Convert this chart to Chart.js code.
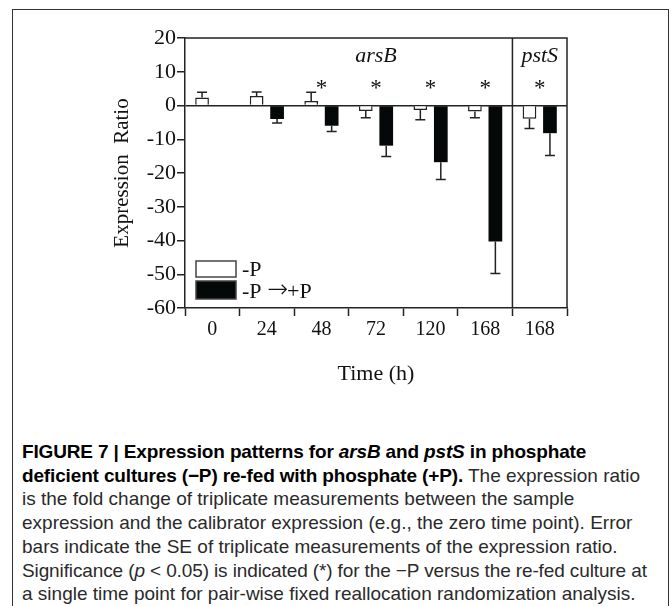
<!DOCTYPE html>
<html>
<head>
<meta charset="utf-8">
<script src="https://cdn.jsdelivr.net/npm/chart.js@4.4.0/dist/chart.umd.min.js"></script>
<style>
    html, body { margin: 0; padding: 0; background: #fff; }
    body { width: 671px; height: 606px; position: relative; overflow: hidden; }
    #frame { position: absolute; left: 12px; top: 9px; width: 655px; height: 640px; border: 1.5px solid #333; }
    #chartBox { position: absolute; left: 0; top: 0; width: 671px; height: 420px; }
    #caption {
        position: absolute; left: 22px; top: 440px; width: 645px;
        font-family: 'Liberation Sans', Arial, sans-serif;
        font-size: 19px; line-height: 23.7px; color: #2a2a2a; white-space: nowrap;
    }
    #caption b { color: #000; letter-spacing: -0.15px; }
    #caption .tight { letter-spacing: -0.12px; }
</style>
</head>
<body>
<div id="frame"></div>
<div id="chartBox"><canvas id="chart"></canvas></div>
<div id="caption"><b>FIGURE 7 | Expression patterns for <i>arsB</i> and <i>pstS</i> in phosphate<br>deficient cultures (−P) re-fed with phosphate (+P).</b> The expression ratio<br>is the fold change of triplicate measurements between the sample<br>expression and the calibrator expression (e.g., the zero time point). Error<br>bars indicate the SE of triplicate measurements of the expression ratio.<br><span class="tight">Significance (<i>p</i> &lt; 0.05) is indicated (*) for the −P versus the re-fed culture at</span><br>a single time point for pair-wise fixed reallocation randomization analysis.</div>

<script>
// Chart data
const timeLabels = ['0', '24', '48', '72', '120', '168', '168'];
const yTicks = [20, 10, 0, -10, -20, -30, -40, -50, -60];

const minusP = [2.4, 2.8, 1.3, -1.6, -1.3, -1.8, -3.9];
const minusPErr = [1.5, 1.2, 2.6, 2.0, 2.9, 1.8, 2.9];
const refed = [null, -4.0, -6.0, -11.9, -16.8, -40.3, -8.2];
const refedErr = [0, 1.2, 1.7, 3.2, 5.1, 9.5, 6.6];

const significant = [false, false, true, true, true, true, true];
const geneLabels = ['arsB', 'pstS'];
const geneLabelIndex = [3, 6];

const serif = 'Liberation Serif, Times New Roman, serif';
const ink = '#222';

// Error bars, frame, divider, asterisks, gene names and legend
const extras = {
    id: 'extras',
    afterDatasetsDraw(chart) {
        const ctx = chart.ctx;
        const a = chart.chartArea;
        const x = chart.scales.x;
        const y = chart.scales.y;

        ctx.save();
        ctx.strokeStyle = ink;
        ctx.lineWidth = 1.5;

        // error bars (one-sided, away from zero)
        [minusPErr, refedErr].forEach((errs, di) => {
            const meta = chart.getDatasetMeta(di);
            const vals = chart.data.datasets[di].data;
            meta.data.forEach((bar, i) => {
                const v = vals[i];
                if (v == null || !errs[i]) return;
                const tip = v + Math.sign(v) * errs[i];
                const y0 = y.getPixelForValue(v);
                const y1 = y.getPixelForValue(tip);
                ctx.beginPath();
                ctx.moveTo(bar.x, y0);
                ctx.lineTo(bar.x, y1);
                ctx.moveTo(bar.x - 5, y1);
                ctx.lineTo(bar.x + 5, y1);
                ctx.stroke();
            });
        });

        // top / right frame and panel divider
        const divX = (x.getPixelForValue(5) + x.getPixelForValue(6)) / 2;
        ctx.beginPath();
        ctx.moveTo(a.left, a.top);
        ctx.lineTo(a.right, a.top);
        ctx.lineTo(a.right, a.bottom);
        ctx.moveTo(divX, a.top);
        ctx.lineTo(divX, a.bottom);
        ctx.stroke();

        // significance stars
        ctx.fillStyle = '#111';
        ctx.font = '23px ' + serif;
        ctx.textAlign = 'center';
        ctx.textBaseline = 'alphabetic';
        significant.forEach((s, i) => {
            if (s) ctx.fillText('*', x.getPixelForValue(i), y.getPixelForValue(3.2));
        });

        // gene names
        ctx.font = 'italic 22px ' + serif;
        geneLabels.forEach((g, k) => {
            ctx.fillText(g, x.getPixelForValue(geneLabelIndex[k]), y.getPixelForValue(12.9));
        });

        // legend
        ctx.textAlign = 'left';
        const lx = a.left + 11;
        const rows = [[a.top + 223, 16], [a.top + 243, 18]];
        chart.data.datasets.forEach((ds, di) => {
            const [ty, h] = rows[di];
            ctx.fillStyle = ds.backgroundColor;
            ctx.fillRect(lx, ty, 40, h);
            ctx.strokeStyle = '#444';
            ctx.strokeRect(lx, ty, 40, h);
            ctx.fillStyle = '#111';
            // the arrow is drawn in a font with a longer, thinner glyph
            const parts = ds.label.split('\u2192');
            let tx = lx + 46;
            const by = ty + h - 1;
            ctx.font = '22px ' + serif;
            ctx.fillText(parts[0], tx, by);
            tx += ctx.measureText(parts[0]).width;
            if (parts.length > 1) {
                ctx.font = '200 25px DejaVu Sans';
                ctx.fillText('\u2192', tx, by - 1);
                tx += ctx.measureText('\u2192').width - 1;
                ctx.font = '22px ' + serif;
                ctx.fillText(parts[1], tx, by);
            }
        });

        ctx.restore();
    }
};

new Chart(document.getElementById('chart'), {
    type: 'bar',
    data: {
        labels: timeLabels,
        datasets: [
            {
                label: '-P',
                data: minusP,
                backgroundColor: '#ffffff',
                borderColor: ink,
                borderWidth: 1.5,
                categoryPercentage: 0.75,
                barPercentage: 0.67
            },
            {
                label: '-P \u2192+P',
                data: refed,
                backgroundColor: '#050808',
                borderColor: '#050808',
                borderWidth: 0,
                categoryPercentage: 0.75,
                barPercentage: 0.67
            }
        ]
    },
    options: {
        responsive: true,
        maintainAspectRatio: false,
        animation: false,
        events: [],
        layout: { padding: { left: 96, top: 38, right: 104, bottom: 0 } },
        plugins: {
            legend: { display: false },
            tooltip: { enabled: false }
        },
        scales: {
            x: {
                offset: true,
                grid: { drawOnChartArea: false, drawTicks: true, tickLength: 8, tickColor: ink, tickWidth: 1.5 },
                border: { display: true, color: ink, width: 1.5 },
                ticks: { font: { family: serif, size: 20 }, color: '#111', padding: 2, maxRotation: 0, autoSkip: false },
                title: {
                    display: true,
                    text: 'Time (h)',
                    font: { family: serif, size: 22 },
                    color: '#111',
                    padding: { top: 0, bottom: 33 }
                },
                afterFit(s) { s.height = 112; }
            },
            y: {
                min: -60,
                max: 20,
                afterBuildTicks(s) { s.ticks = yTicks.map(v => ({ value: v })); },
                grid: {
                    drawOnChartArea: true,
                    drawTicks: true,
                    tickLength: 8,
                    tickColor: ink,
                    tickWidth: 1.5,
                    lineWidth: 1.5,
                    color: c => (c.tick && c.tick.value === 0 ? ink : 'rgba(0,0,0,0)')
                },
                border: { display: true, color: ink, width: 1.5 },
                ticks: { font: { family: serif, size: 22 }, color: '#111', padding: 1 },
                title: {
                    display: true,
                    text: 'Expression  Ratio',
                    font: { family: serif, size: 21 },
                    color: '#111',
                    padding: { top: 14, bottom: 0 }
                },
                afterFit(s) { s.width = 89; }
            }
        }
    },
    plugins: [extras]
});
</script>
</body>
</html>
